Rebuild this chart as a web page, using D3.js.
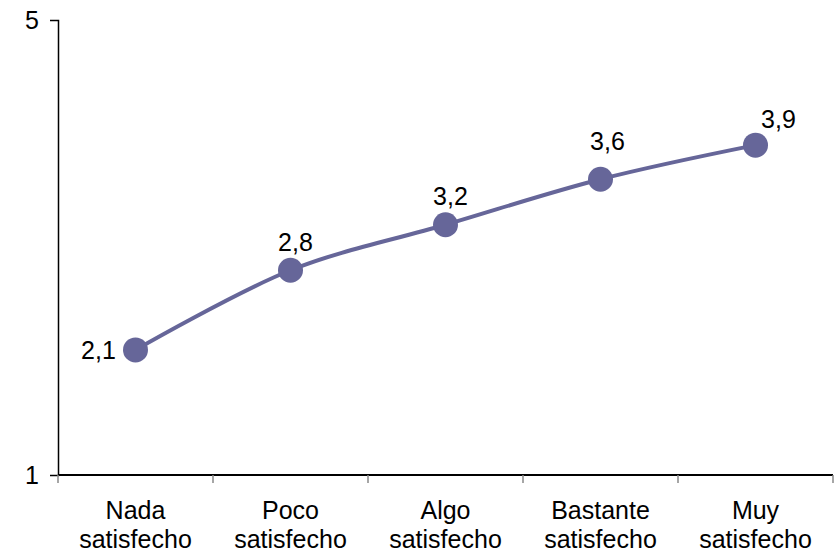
<!DOCTYPE html>
<html><head><meta charset="utf-8">
<script src="https://cdn.jsdelivr.net/npm/d3@7"></script>
<style>body{margin:0;background:#fff}svg{display:block}text{font-family:"Liberation Sans",Arial,sans-serif;fill:#000}</style>
</head><body><svg id="c" width="834" height="554"></svg>
<script>
const categories = [["Nada","satisfecho"],["Poco","satisfecho"],["Algo","satisfecho"],["Bastante","satisfecho"],["Muy","satisfecho"]];
const values = [2.1, 2.8, 3.2, 3.6, 3.9];
const labels = ["2,1","2,8","3,2","3,6","3,9"];
const yTicks = [1, 5];

(function(){
const svg = d3.select("#c");
const mLeft = 58, mRight = 833, mTop = 20, mBottom = 475;
const fs = "25px";
const x = d3.scaleBand().domain(d3.range(categories.length)).range([mLeft, mRight]);
const y = d3.scaleLinear().domain([1,5]).range([mBottom, mTop]);
const color = "#666699";

// Y axis
const ya = svg.append("g").attr("transform",`translate(${mLeft},0)`)
  .call(d3.axisLeft(y).tickValues(yTicks).tickSize(8).tickPadding(11).tickFormat(d3.format("d")));
ya.select(".domain").attr("stroke","#000").attr("stroke-width",1.5);
ya.selectAll(".tick line").attr("stroke","#000");
ya.selectAll("text").style("font-size",fs).attr("font-family","Liberation Sans, Arial, sans-serif").attr("fill","#000");

// X axis
const xa = svg.append("g").attr("transform",`translate(0,${mBottom})`)
  .call(d3.axisBottom(x).tickSize(0).tickFormat(""));
xa.select(".domain").attr("d",`M${mLeft},0H${mRight}`).attr("stroke","#000").attr("stroke-width",2);
const bounds = d3.range(categories.length+1).map(i => mLeft + i*x.bandwidth());
xa.selectAll(".bnd").data(bounds).join("line").attr("class","bnd")
  .attr("x1",d=>d).attr("x2",d=>d).attr("y1",0).attr("y2",8).attr("stroke","#888").attr("stroke-width",1.5);
const cat = svg.append("g");
categories.forEach((c,i)=>{
  const t = cat.append("text").attr("text-anchor","middle").style("font-size",fs)
    .attr("x", x(i)+x.bandwidth()/2);
  t.append("tspan").attr("x", x(i)+x.bandwidth()/2).attr("y", 519).text(c[0]);
  t.append("tspan").attr("x", x(i)+x.bandwidth()/2).attr("y", 548).text(c[1]);
});

// Line
const cx = i => x(i)+x.bandwidth()/2;
const line = d3.line().x((d,i)=>cx(i)).y(d=>y(d)).curve(d3.curveCatmullRom.alpha(0.5));
svg.append("path").attr("d", line(values)).attr("fill","none").attr("stroke",color).attr("stroke-width",4);
svg.selectAll(".pt").data(values).join("circle").attr("class","pt")
  .attr("cx",(d,i)=>cx(i)).attr("cy",d=>y(d)).attr("r",12.5).attr("fill",color);

// Data labels
const offs = [[-37,9],[5,-19],[5,-20],[7,-29],[23,-17]];
svg.selectAll(".dl").data(values).join("text").attr("class","dl")
  .attr("text-anchor","middle").style("font-size",fs)
  .attr("x",(d,i)=>cx(i)+offs[i][0]).attr("y",(d,i)=>y(d)+offs[i][1])
  .text((d,i)=>labels[i]);
})();
</script></body></html>
